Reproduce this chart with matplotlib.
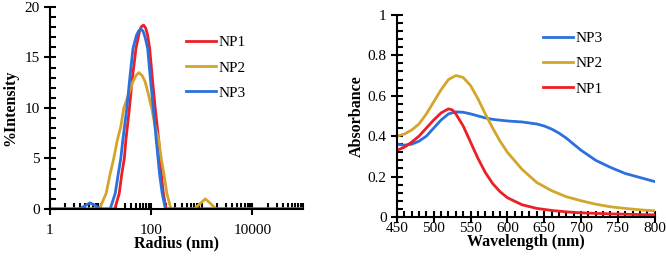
import matplotlib
matplotlib.use("Agg")
import matplotlib.pyplot as plt
from matplotlib.ticker import MultipleLocator, FixedLocator, NullFormatter

plt.rcParams['font.family'] = ['Liberation Serif', 'DejaVu Serif']

# DLS size distribution (radius in nm, % intensity)
np1_r = [1, 19.1, 23.4, 26.3, 29.5, 31.6, 37.2, 41.7, 50.1, 58.9, 64, 70.8, 78,
         85.1, 93.3, 107, 120, 141, 158, 174, 197, 100000]
np1_i = [0, 0, 1.55, 3.5, 5.0, 6.8, 10.0, 12.6, 15.9, 17.6, 18.05, 18.2, 17.9,
         17.2, 15.9, 12.6, 10.0, 6.8, 3.5, 1.55, 0, 0]

np2_r = [1, 9.5, 12.9, 15.5, 18.2, 21.4, 25.1, 28.8, 36.3, 43.7, 50.1, 57.1, 66.1,
         75.9, 87.1, 102, 120, 141, 158, 178, 204, 245,
         708, 912, 1175, 1514, 1905, 100000]
np2_i = [0, 0, 1.55, 3.5, 5.0, 6.8, 8.15, 10.0, 11.45, 12.6, 13.2, 13.5, 13.2,
         12.6, 11.45, 10.0, 8.15, 6.8, 5.0, 3.5, 1.55, 0,
         0, 0.5, 1.0, 0.5, 0, 0]

np3_r = [1, 3.9, 5.0, 6.2, 7.8, 10.0, 15.5, 19.5, 22.4, 25.1, 27.5, 33.1, 37.2,
         43.7, 51.3, 57, 63.1, 69, 75.9, 85.1, 97.7, 110, 126, 146, 165, 191, 100000]
np3_i = [0, 0, 0.35, 0.6, 0.35, 0, 0, 1.55, 3.5, 5.0, 6.8, 10.0, 12.6,
         15.9, 17.2, 17.65, 17.8, 17.6, 17.0, 15.9, 12.6, 10.0, 6.8, 3.5, 1.55, 0, 0]

# UV-Vis spectra
wl3 = [450, 460, 470, 480, 490, 500, 510, 520, 530, 540, 550, 560, 570, 580, 600,
       620, 640, 650, 660, 670, 680, 690, 700, 720, 740, 760, 780, 800]
abs3 = [0.36, 0.355, 0.36, 0.375, 0.40, 0.44, 0.48, 0.51, 0.52, 0.518, 0.51, 0.50,
        0.49, 0.483, 0.475, 0.47, 0.46, 0.45, 0.435, 0.415, 0.39, 0.36, 0.33,
        0.28, 0.245, 0.215, 0.195, 0.175]

wl2 = [450, 460, 470, 480, 490, 500, 510, 520, 530, 540, 550, 560, 570, 580, 590,
       600, 620, 640, 660, 680, 700, 720, 740, 760, 780, 800]
abs2 = [0.40, 0.41, 0.43, 0.46, 0.51, 0.57, 0.63, 0.68, 0.70, 0.69, 0.65, 0.585,
        0.51, 0.44, 0.375, 0.32, 0.235, 0.17, 0.13, 0.10, 0.08, 0.063, 0.05,
        0.042, 0.035, 0.03]

wl1 = [450, 460, 470, 480, 490, 500, 510, 520, 525, 530, 540, 550, 560, 570, 580,
       590, 600, 620, 640, 660, 680, 700, 740, 800]
abs1 = [0.33, 0.345, 0.37, 0.40, 0.44, 0.48, 0.515, 0.535, 0.53, 0.51, 0.45, 0.37,
        0.29, 0.22, 0.165, 0.125, 0.095, 0.06, 0.042, 0.032, 0.025, 0.02, 0.015, 0.01]

red = '#ec1f27'
gold = '#d4a52b'
blue = '#2b70dc'

fig = plt.figure(figsize=(6.66, 2.57), dpi=100)
ax1 = fig.add_axes([0.075, 0.187, 0.380, 0.786])
ax2 = fig.add_axes([0.596, 0.156, 0.387, 0.786])


def style(ax, xpad):
    for s in ['top', 'right']:
        ax.spines[s].set_visible(False)
    for s in ['left', 'bottom']:
        ax.spines[s].set_linewidth(1.5)
    ax.tick_params(which='major', direction='inout', length=8, width=1.5, labelsize=11)
    ax.tick_params(which='minor', direction='in', length=4, width=1.5)
    ax.tick_params(axis='x', which='major', pad=xpad)


# left: radius distribution
ax1.plot(np1_r, np1_i, color=red, lw=2, label='NP1')
ax1.plot(np2_r, np2_i, color=gold, lw=2, label='NP2')
ax1.plot(np3_r, np3_i, color=blue, lw=2, label='NP3')
ax1.set_xscale('log')
ax1.set_xlim(1, 100000)
ax1.set_ylim(0, 20)
ax1.xaxis.set_major_locator(FixedLocator([1, 100, 10000]))
minors = []
for dec in [1, 10, 100, 1000, 10000]:
    for m in range(2, 10):
        minors.append(dec * m)
minors += [10, 1000, 100000]
ax1.xaxis.set_minor_locator(FixedLocator(minors))
ax1.xaxis.set_minor_formatter(NullFormatter())
ax1.set_xticklabels(['1', '100', '10000'])
ax1.yaxis.set_major_locator(MultipleLocator(5))
ax1.yaxis.set_minor_locator(MultipleLocator(1))
style(ax1, 7)
ax1.set_xlabel('Radius (nm)', fontsize=11.5, fontweight='bold', labelpad=-1)
ax1.set_ylabel('%Intensity', fontsize=11.5, fontweight='bold', labelpad=4)
ax1.legend(loc='upper left', bbox_to_anchor=(0.279, 0.861), bbox_transform=fig.transFigure,
           frameon=False, fontsize=11, handlelength=2.0, handletextpad=0.15,
           labelspacing=0.75, borderpad=0, borderaxespad=0)

# right: absorbance spectra
ax2.plot(wl3, abs3, color=blue, lw=2, label='NP3')
ax2.plot(wl2, abs2, color=gold, lw=2, label='NP2')
ax2.plot(wl1, abs1, color=red, lw=2, label='NP1')
ax2.set_xlim(450, 800)
ax2.set_ylim(0, 1)
ax2.xaxis.set_major_locator(MultipleLocator(50))
ax2.xaxis.set_minor_locator(MultipleLocator(10))
ax2.yaxis.set_major_locator(MultipleLocator(0.2))
ax2.yaxis.set_minor_locator(MultipleLocator(0.04))
ax2.set_yticks([0, 0.2, 0.4, 0.6, 0.8, 1.0])
ax2.set_yticklabels(['0', '0.2', '0.4', '0.6', '0.8', '1'])
style(ax2, 0)
ax2.set_xlabel('Wavelength (nm)', fontsize=11.5, fontweight='bold', labelpad=-1)
ax2.set_ylabel('Absorbance', fontsize=11.5, fontweight='bold', labelpad=2)
ax2.legend(loc='upper left', bbox_to_anchor=(0.815, 0.877), bbox_transform=fig.transFigure,
           frameon=False, fontsize=11, handlelength=2.0, handletextpad=0.15,
           labelspacing=0.75, borderpad=0, borderaxespad=0)

fig.savefig('out.png', dpi=100)
